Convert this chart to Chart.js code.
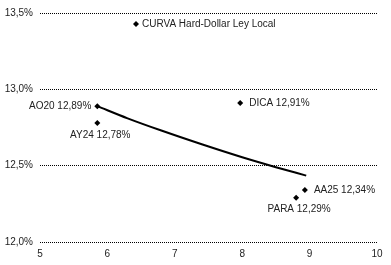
<!DOCTYPE html>
<html>
<head>
<meta charset="utf-8">
<script src="https://cdn.jsdelivr.net/npm/chart.js@4/dist/chart.umd.min.js"></script>
<style>
html,body{margin:0;padding:0;background:#fff;}
#wrap{width:391px;height:265px;position:relative;}
</style>
</head>
<body>
<div id="wrap"><canvas id="c" width="391" height="265"></canvas></div>
<script>
// ---- data ----
const bondNames = ["AO20", "AY24", "DICA", "AA25", "PARA"];
const bondDuration = [5.85, 5.85, 7.97, 8.93, 8.80];
const bondYield = [12.89, 12.78, 12.91, 12.34, 12.29];
const curveX = [5.85, 6.3, 6.8, 7.4, 8.0, 8.5, 8.95];
const curveY = [12.89, 12.81, 12.73, 12.64, 12.555, 12.49, 12.435];
const xTicks = [5, 6, 7, 8, 9, 10];
const yTicks = [12.0, 12.5, 13.0, 13.5];
const legendLabel = "CURVA Hard-Dollar Ley Local";

// label placement (style, not data)
const labelPlacement = {AO20: "left", AY24: "below", DICA: "right", AA25: "right", PARA: "below"};

const FONT = "'Liberation Sans', Arial, sans-serif";
const fmt = v => v.toFixed(2).replace('.', ',') + '%';

const pointData = bondNames.map((n, i) => ({x: bondDuration[i], y: bondYield[i], name: n}));
const curveData = curveX.map((x, i) => ({x: x, y: curveY[i]}));

const labelsPlugin = {
  id: 'bondLabels',
  afterDatasetsDraw(chart) {
    const ctx = chart.ctx;
    const meta = chart.getDatasetMeta(1);
    ctx.save();
    ctx.font = "10px " + FONT;
    ctx.fillStyle = "#222";
    meta.data.forEach((el, i) => {
      const name = bondNames[i];
      const txt = name + " " + fmt(bondYield[i]);
      const p = labelPlacement[name];
      if (p === "left") {
        ctx.textAlign = "right"; ctx.textBaseline = "middle";
        ctx.fillText(txt, el.x - 6, el.y);
      } else if (p === "right") {
        ctx.textAlign = "left"; ctx.textBaseline = "middle";
        ctx.fillText(txt, el.x + 9, el.y);
      } else {
        ctx.textAlign = "center"; ctx.textBaseline = "middle";
        ctx.fillText(txt, el.x + 3, el.y + 12);
      }
    });
    // legend inside plot
    const ca = chart.chartArea;
    const lx = ca.left + 96, ly = ca.top + 11;
    ctx.fillStyle = "#000";
    ctx.beginPath();
    ctx.moveTo(lx, ly - 3); ctx.lineTo(lx + 3, ly); ctx.lineTo(lx, ly + 3); ctx.lineTo(lx - 3, ly);
    ctx.closePath(); ctx.fill();
    ctx.fillStyle = "#222";
    ctx.textAlign = "left"; ctx.textBaseline = "middle";
    ctx.fillText(legendLabel, lx + 6, ly);
    ctx.restore();
  }
};

new Chart(document.getElementById('c'), {
  type: 'scatter',
  data: {
    datasets: [
      {
        label: 'curve',
        data: curveData,
        showLine: true,
        borderColor: '#000',
        borderWidth: 2,
        pointRadius: 0,
        cubicInterpolationMode: 'monotone',
        fill: false
      },
      {
        label: legendLabel,
        data: pointData,
        pointStyle: 'rectRot',
        pointRadius: 3,
        backgroundColor: '#000',
        borderColor: '#000',
        borderWidth: 0
      }
    ]
  },
  options: {
    responsive: false,
    animation: false,
    devicePixelRatio: 1,
    layout: {padding: {top: 12, right: 14, left: 0, bottom: 0}},
    plugins: {legend: {display: false}, tooltip: {enabled: false}},
    scales: {
      x: {
        type: 'linear', min: 5, max: 10,
        afterBuildTicks: s => { s.ticks = xTicks.map(v => ({value: v})); },
        grid: {display: false, drawTicks: false},
        border: {display: false},
        ticks: {color: '#222', font: {family: FONT, size: 10}, padding: 6},
        afterFit: s => { s.height = 23; }
      },
      y: {
        type: 'linear', min: 12.0, max: 13.5,
        afterBuildTicks: s => { s.ticks = yTicks.map(v => ({value: v})); },
        grid: {color: '#000', lineWidth: 1, drawTicks: false},
        border: {display: false, dash: [1, 1]},
        ticks: {
          color: '#222', font: {family: FONT, size: 10}, padding: 7,
          callback: v => v.toFixed(1).replace('.', ',') + '%'
        },
        afterFit: s => { s.width = 40; }
      }
    }
  },
  plugins: [labelsPlugin]
});
</script>
</body>
</html>
